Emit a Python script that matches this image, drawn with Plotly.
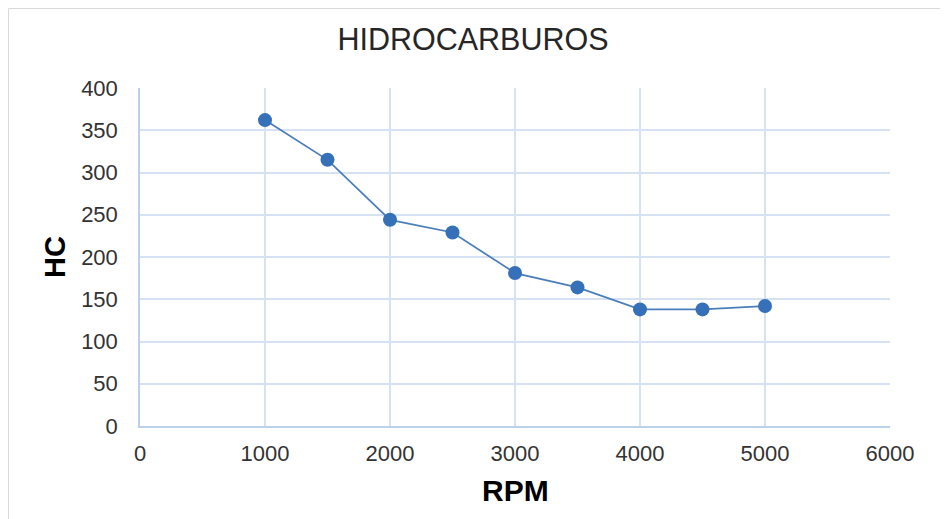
import plotly.graph_objects as go

rpm = [1000, 1500, 2000, 2500, 3000, 3500, 4000, 4500, 5000]
hc = [362, 315, 244, 229, 181, 164, 138, 138, 142]
title_text = "HIDROCARBUROS"
x_title = "RPM"
y_title = "HC"

W, H = 948, 519
L, R, T, B = 132, 66, 80, 101
pw, ph = W - L - R, H - T - B

fig = go.Figure()
fig.add_trace(go.Scatter(
    x=rpm, y=hc, mode="lines+markers",
    line=dict(color="#4a7ebb", width=1.75),
    marker=dict(color="#3570b8", size=14),
    showlegend=False,
))

grid = "#d6e2f3"
axis_line = "#bcd0ec"
tick_font = dict(size=22, color="#333333")
fig.update_layout(
    width=W, height=H,
    margin=dict(l=L, r=R, t=T, b=B),
    paper_bgcolor="white", plot_bgcolor="white",
    font=dict(family="Liberation Sans, Arial, sans-serif", color="#000000"),
    title=dict(text=title_text, xref="container", x=465 / W, xanchor="center",
               yref="container", y=1 - 31 / H, yanchor="middle",
               font=dict(size=30.5, color="#262626")),
    xaxis=dict(range=[0, 6000], dtick=1000, showgrid=True, gridcolor=grid, gridwidth=1.5,
               showline=True, linecolor=axis_line, linewidth=1.5, zeroline=False,
               tickfont=tick_font, ticks="", ticklabelstandoff=7),
    yaxis=dict(range=[0, 400], dtick=50, showgrid=True, gridcolor=grid, gridwidth=1.5,
               showline=True, linecolor=axis_line, linewidth=1.5, zeroline=False,
               tickfont=tick_font, ticks="", ticklabelstandoff=16),
    annotations=[
        dict(text="<b>" + x_title + "</b>", xref="paper", yref="paper",
             x=(507 - L) / pw, y=(H - B - 482) / ph, xanchor="center", yanchor="middle",
             showarrow=False, font=dict(size=30, color="#000000")),
        dict(text="<b>" + y_title + "</b>", xref="paper", yref="paper",
             x=(47 - L) / pw, y=(H - B - 249) / ph, xanchor="center", yanchor="middle",
             textangle=-90, showarrow=False, font=dict(size=29, color="#000000")),
    ],
    shapes=[dict(type="rect", xref="paper", yref="paper",
                 x0=(0.5 - L) / pw, x1=(934 - L) / pw,
                 y0=(H - B - 518) / ph, y1=(H - B - 0.5) / ph,
                 line=dict(color="#d9d9d9", width=1))],
)
fig.write_html("out.html")
